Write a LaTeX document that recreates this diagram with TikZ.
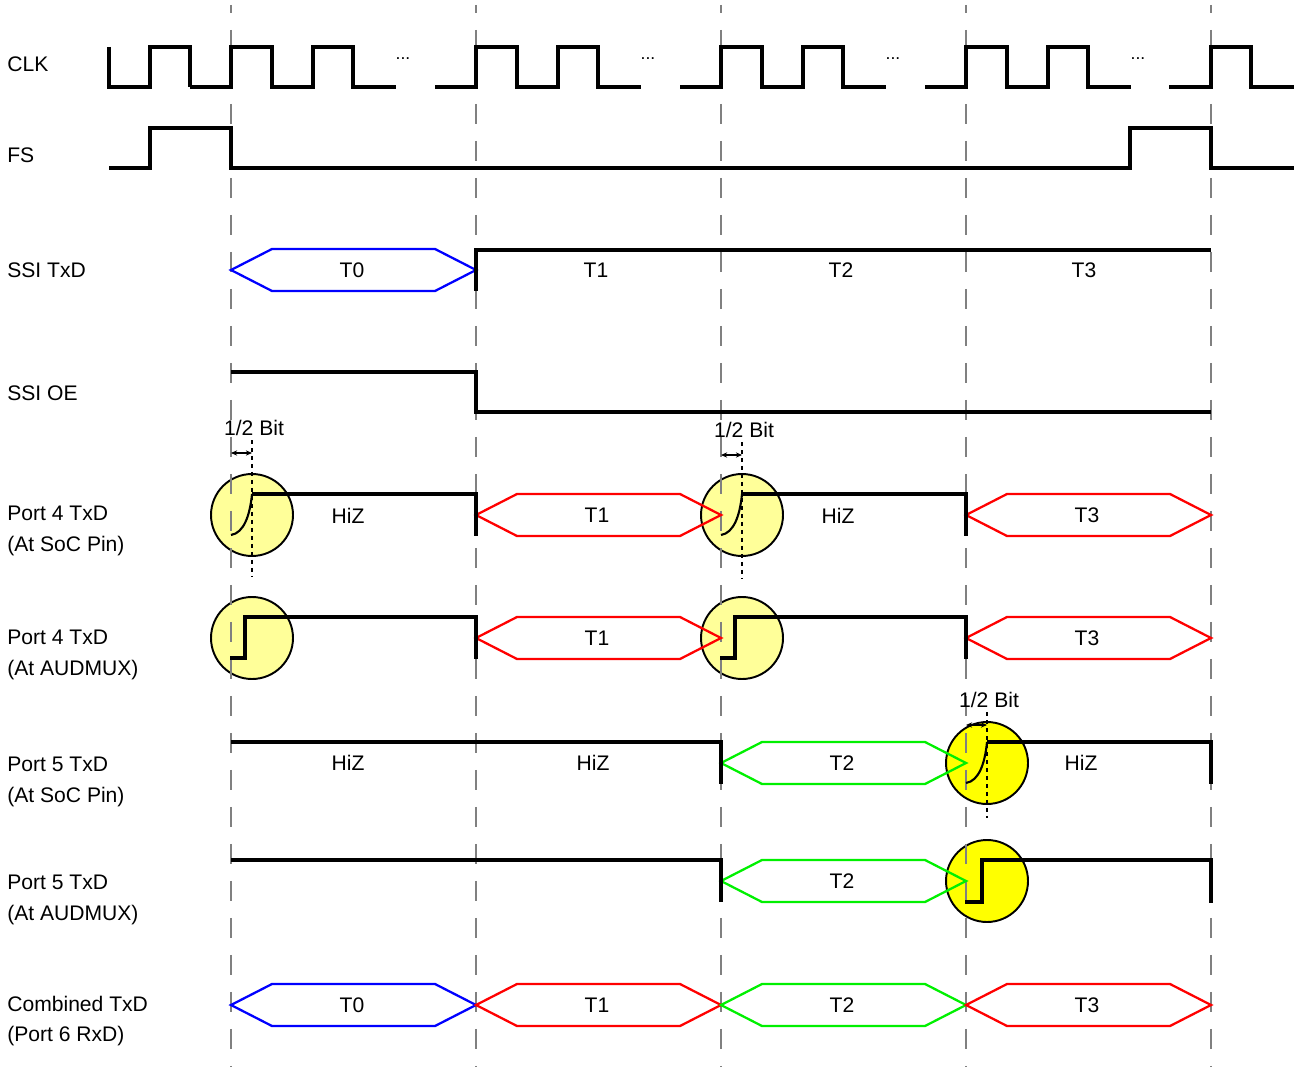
\documentclass[tikz,border=0pt]{standalone}
\usepackage{fontspec}
\setmainfont{Liberation Sans}
\usetikzlibrary{arrows.meta}
\definecolor{pinyellow}{RGB}{255,255,153}
\definecolor{padyellow}{RGB}{255,255,0}
\definecolor{busgreen}{RGB}{0,240,0}
\definecolor{gridgray}{RGB}{128,128,128}

\begin{document}
\begin{tikzpicture}[
    x=0.02cm,
    y=-0.02cm,
    >=Stealth,
    font=\fontsize{12}{17.6}\selectfont,
    sig/.style={line width=1.9pt, line join=miter},
    ramp/.style={line width=1.2pt},
    bus/.style={line width=1.3pt},
    slotline/.style={gridgray, line width=0.6pt, dash pattern=on 0.4cm off 0.34cm, dash phase=0.24cm},
    marker/.style={line width=1.1pt, dash pattern=on 0.08cm off 0.08cm},
    glow/.style={circle, draw, line width=1.1pt, minimum size=1.64cm, inner sep=0pt},
    signame/.style={anchor=west, align=left, inner sep=0pt},
    dots/.style={anchor=base, font=\fontsize{10}{10}\selectfont, inner sep=0pt},
    dim/.style={{Stealth[length=3.5pt,width=3pt]}-{Stealth[length=3.5pt,width=3pt]}, line width=0.6pt}
]
\useasboundingbox (0,0) rectangle (1294,1067);

% --- Signal names ---
\node[signame] (lclk)   at (7,64)     {CLK};
\node[signame] (lfs)    at (7,155)    {FS};
\node[signame] (ltxd)   at (7,270)    {SSI TxD};
\node[signame] (loe)    at (7,393)    {SSI OE};
\node[signame] (lp4soc) at (7,531)    {Port 4 TxD\\(At SoC Pin)};
\node[signame] (lp4aud) at (7,654.5)  {Port 4 TxD\\(At AUDMUX)};
\node[signame] (lp5soc) at (7,782)    {Port 5 TxD\\(At SoC Pin)};
\node[signame] (lp5aud) at (7,899.5)  {Port 5 TxD\\(At AUDMUX)};
\node[signame] (lcomb)  at (7,1021)   {Combined TxD\\(Port 6 RxD)};

% --- Highlighted edges ---
\node[glow, fill=pinyellow] (c4a) at (252,515) {};
\node[glow, fill=pinyellow] (c4b) at (742,515) {};
\node[glow, fill=pinyellow] (c4c) at (252,638) {};
\node[glow, fill=pinyellow] (c4d) at (742,638) {};
\node[glow, fill=padyellow] (c5a) at (987,763) {};
\node[glow, fill=padyellow] (c5b) at (987,881) {};

% --- Slot boundaries ---
\foreach \x in {231,476,721,966,1211} {
    \draw[slotline] (\x,5) -- (\x,1067);
}

% --- CLK ---
\draw[sig] (109,47) -- (109,87) -- (150,87) -- (150,47) -- (190,47) -- (190,87);
\foreach \k in {231,476,721,966} {
    \draw[sig] (\k-41,87) -- (\k,87) -- (\k,47) -- (\k+41,47) -- (\k+41,87) -- (\k+82,87)
        -- (\k+82,47) -- (\k+122,47) -- (\k+122,87) -- (\k+165,87);
    \node[dots] (dots-\k) at (\k+172,60) {...};
}
\draw[sig] (1169,87) -- (1211,87) -- (1211,47) -- (1251,47) -- (1251,87) -- (1294,87);

% --- FS ---
\draw[sig] (109,168) -- (150,168) -- (150,128) -- (231,128) -- (231,168) -- (1130,168)
    -- (1130,128) -- (1211,128) -- (1211,168) -- (1294,168);

% --- Data slots ---
\foreach \xa/\yc/\col/\lab in {231/270/blue/T0, 476/515/red/T1, 966/515/red/T3,
    476/638/red/T1, 966/638/red/T3, 721/763/busgreen/T2, 721/881/busgreen/T2,
    231/1005/blue/T0, 476/1005/red/T1, 721/1005/busgreen/T2, 966/1005/red/T3} {
    \draw[bus, \col] (\xa,\yc) -- (\xa+41,\yc-21) -- (\xa+204,\yc-21) -- (\xa+245,\yc)
        -- (\xa+204,\yc+21) -- (\xa+41,\yc+21) -- cycle;
    \node (slot-\xa-\yc) at (\xa+121,\yc) {\lab};
}

% --- SSI TxD / SSI OE ---
\draw[sig] (476,291) -- (476,250) -- (1211,250);
\node (txd1) at (596,270) {T1};
\node (txd2) at (841,270) {T2};
\node (txd3) at (1084,270) {T3};
\draw[sig] (231,372) -- (476,372) -- (476,412) -- (1211,412);

% --- Port 4 ---
\foreach \c/\e in {252/476, 742/966} {
    \draw[ramp] (\c-21,535) .. controls (\c-8,533) and (\c-2,515) .. (\c,494);
    \draw[sig] (\c,494) -- (\e,494) -- (\e,536);
    \draw[sig] (\c-22,658) -- (\c-7,658) -- (\c-7,617) -- (\e,617) -- (\e,659);
}
\node (hiz1) at (348,516) {HiZ};
\node (hiz2) at (838,516) {HiZ};

% --- Port 5 ---
\draw[sig] (231,742) -- (721,742) -- (721,784);
\draw[ramp] (966,783) .. controls (979,781) and (985,763) .. (987,742);
\draw[sig] (987,742) -- (1211,742) -- (1211,784);
\draw[sig] (231,860) -- (721,860) -- (721,902);
\draw[sig] (965,902) -- (982,902) -- (982,860) -- (1211,860) -- (1211,903);
\node (hiz3) at (348,763) {HiZ};
\node (hiz4) at (593,763) {HiZ};
\node (hiz5) at (1081,763) {HiZ};

% --- Half bit delay ---
\foreach \c/\yt/\yd/\nm in {252/428/576/hb1, 742/430/578/hb2, 987/700/818/hb3} {
    \node (\nm) at (\c+2,\yt) {1/2 Bit};
    \draw[dim] (\c-21,\yt+25) -- (\c,\yt+25);
    \draw[marker] (\c,\yt+12) -- (\c,\yd);
}

\end{tikzpicture}
\end{document}
